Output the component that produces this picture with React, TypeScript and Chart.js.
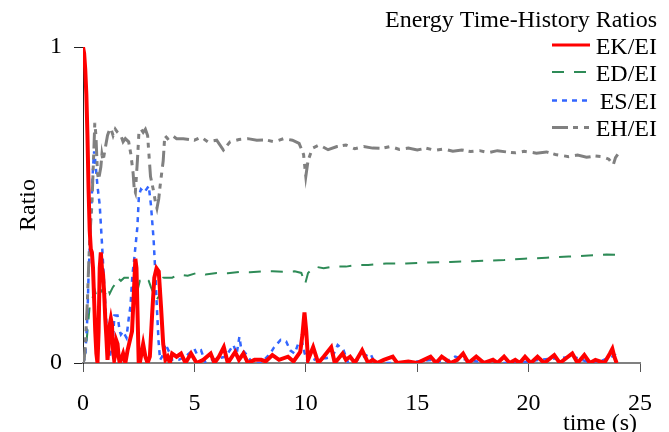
import React, { useEffect, useRef } from "react";
import { Chart, registerables } from "chart.js";

Chart.register(...registerables);

const xTicks = [0, 5, 10, 15, 20, 25];
const yTicks = [0, 1];
const seriesLabels = ["EK/EI", "ED/EI", "ES/EI", "EH/EI"];
const legendTitle = "Energy Time-History Ratios";
const xTitle = "time (s)";
const yTitle = "Ratio";

const tEK = [0, 0.05, 0.1, 0.15, 0.2, 0.25, 0.3, 0.35, 0.4, 0.45, 0.5, 0.55, 0.6, 0.65, 0.7, 0.75, 0.8, 0.85, 0.9, 0.95, 1.0, 1.05, 1.1, 1.15, 1.2, 1.25, 1.3, 1.35, 1.4, 1.45, 1.5, 1.55, 1.6, 1.65, 1.7, 1.8, 1.9, 2.0, 2.1, 2.2, 2.3, 2.35, 2.4, 2.45, 2.5, 2.55, 2.6, 2.7, 2.8, 2.9, 3.0, 3.1, 3.2, 3.3, 3.4, 3.5, 3.6, 3.7, 3.8, 3.9, 4.0, 4.2, 4.4, 4.6, 4.85, 5.1, 5.4, 5.73, 5.9, 6.1, 6.32, 6.5, 6.83, 7.0, 7.2, 7.4, 7.7, 8.0, 8.2, 8.5, 8.8, 9.2, 9.45, 9.75, 9.85, 9.94, 10.02, 10.1, 10.33, 10.56, 10.8, 11.14, 11.3, 11.65, 11.8, 11.99, 12.2, 12.53, 12.8, 13.0, 13.2, 13.5, 13.9, 14.1, 14.6, 15.0, 15.3, 15.6, 15.85, 16.1, 16.5, 16.8, 17.06, 17.3, 17.65, 18.0, 18.4, 18.6, 18.9, 19.15, 19.4, 19.6, 19.84, 20.1, 20.4, 20.7, 21.15, 21.4, 21.96, 22.2, 22.5, 22.75, 23.0, 23.4, 23.65, 23.76, 23.85, 23.95, 24.0];
const vEK = [1.0, 0.98, 0.93, 0.85, 0.72, 0.55, 0.42, 0.36, 0.35, 0.3, 0.2, 0.1, 0.03, 0.0, 0.1, 0.3, 0.35, 0.3, 0.28, 0.22, 0.14, 0.08, 0.01, 0.05, 0.12, 0.14, 0.12, 0.04, 0.01, 0.03, 0.07, 0.06, 0.02, 0.0, 0.01, 0.03, 0.0, 0.04, 0.07, 0.1, 0.25, 0.33, 0.3, 0.15, 0.0, 0.0, 0.02, 0.06, 0.02, 0.0, 0.02, 0.15, 0.27, 0.3, 0.29, 0.18, 0.06, 0.01, 0.02, 0.0, 0.03, 0.02, 0.03, 0.0, 0.03, 0.0, 0.01, 0.03, 0.0, 0.02, 0.05, 0.0, 0.035, 0.01, 0.03, 0.0, 0.01, 0.01, 0.005, 0.025, 0.01, 0.02, 0.005, 0.035, 0.09, 0.16, 0.1, 0.01, 0.05, 0.0, 0.02, 0.05, 0.0, 0.03, 0.01, 0.02, 0.0, 0.04, 0.0, 0.01, 0.0, 0.01, 0.02, 0.0, 0.005, 0.0, 0.01, 0.02, 0.0, 0.02, 0.0, 0.01, 0.03, 0.0, 0.02, 0.0, 0.01, 0.0, 0.02, 0.0, 0.01, 0.0, 0.02, 0.0, 0.02, 0.0, 0.025, 0.0, 0.03, 0.0, 0.025, 0.0, 0.01, 0.0, 0.03, 0.045, 0.02, 0.0, 0.0];

const tED = [0, 0.1, 0.15, 0.2, 0.3, 0.4, 0.53, 0.65, 0.75, 0.85, 1.0, 1.11, 1.2, 1.34, 1.45, 1.55, 1.7, 1.85, 2.0, 2.1, 2.2, 2.3, 2.37, 2.45, 2.55, 2.66, 2.8, 2.95, 3.05, 3.17, 3.3, 3.4, 3.5, 3.6, 3.7, 4.0, 4.3, 4.7, 5.15, 5.5, 6.0, 6.5, 7.0, 7.5, 8.0, 8.5, 9.0, 9.5, 9.8, 9.97, 10.1, 10.4, 10.8, 11.2, 11.8, 12.3, 12.8, 13.6, 14.5, 15.5, 16.5, 17.5, 18.9, 19.8, 20.8, 21.8, 22.7, 23.5, 24.0];
const vED = [0, 0.03, 0.06, 0.1, 0.18, 0.2, 0.23, 0.2, 0.22, 0.23, 0.22, 0.24, 0.22, 0.24, 0.25, 0.27, 0.26, 0.27, 0.27, 0.27, 0.25, 0.22, 0.2, 0.23, 0.26, 0.26, 0.27, 0.26, 0.24, 0.22, 0.2, 0.21, 0.25, 0.27, 0.27, 0.27, 0.28, 0.276, 0.286, 0.28, 0.285, 0.284, 0.288, 0.287, 0.29, 0.29, 0.289, 0.29, 0.285, 0.25, 0.285, 0.305, 0.3, 0.305, 0.305, 0.31, 0.31, 0.315, 0.315, 0.318, 0.32, 0.322, 0.326, 0.33, 0.333, 0.337, 0.34, 0.343, 0.342];

const tES = [0, 0.1, 0.2, 0.25, 0.35, 0.45, 0.5, 0.55, 0.65, 0.75, 0.85, 0.95, 1.05, 1.1, 1.2, 1.33, 1.41, 1.55, 1.65, 1.7, 1.8, 1.95, 2.05, 2.13, 2.22, 2.3, 2.44, 2.51, 2.6, 2.75, 2.95, 3.05, 3.17, 3.25, 3.32, 3.39, 3.46, 3.55, 3.7, 3.9, 4.0, 4.3, 4.6, 5.0, 5.1, 5.3, 5.5, 5.8, 6.1, 6.4, 6.75, 6.9, 7.02, 7.1, 7.3, 7.6, 8.0, 8.4, 8.58, 8.87, 9.12, 9.3, 9.5, 9.68, 9.82, 9.95, 10.1, 10.5, 10.9, 11.2, 11.43, 11.7, 11.9, 12.3, 12.9, 13.1, 14.0, 15.0, 15.7, 16.2, 16.7, 17.2, 17.7, 18.5, 19.5, 20.5, 21.3, 22.0, 22.6, 23.2, 23.9, 24.0];
const vES = [0, 0.02, 0.15, 0.28, 0.45, 0.62, 0.67, 0.64, 0.56, 0.5, 0.38, 0.25, 0.13, 0.03, 0.02, 0.06, 0.15, 0.15, 0.1, 0.09, 0.1, 0.08, 0.14, 0.18, 0.28, 0.33, 0.43, 0.53, 0.55, 0.54, 0.56, 0.5, 0.39, 0.28, 0.17, 0.07, 0.01, 0.02, 0.06, 0.03, 0.01, 0.01, 0.02, 0.045, 0.03, 0.04, 0.0, 0.01, 0.015, 0.02, 0.057, 0.03, 0.083, 0.045, 0.03, 0.0, 0.0, 0.03, 0.05, 0.073, 0.068, 0.04, 0.03, 0.065, 0.07, 0.03, 0.0, 0.015, 0.015, 0.02, 0.057, 0.04, 0.0, 0.01, 0.03, 0.0, 0.0, 0.005, 0.01, 0.0, 0.02, 0.01, 0.005, 0.0, 0.0, 0.01, 0.015, 0.02, 0.005, 0.005, 0.025, 0.02];

const tEH = [0, 0.05, 0.1, 0.2, 0.25, 0.3, 0.35, 0.4, 0.45, 0.5, 0.53, 0.58, 0.65, 0.7, 0.75, 0.8, 0.85, 0.9, 1.0, 1.1, 1.2, 1.26, 1.35, 1.45, 1.55, 1.7, 1.8, 1.9, 2.05, 2.15, 2.25, 2.3, 2.35, 2.45, 2.51, 2.6, 2.7, 2.8, 2.9, 3.03, 3.15, 3.25, 3.32, 3.4, 3.46, 3.6, 3.67, 3.8, 4.0, 4.2, 4.5, 5.0, 5.3, 5.6, 6.0, 6.3, 6.6, 7.0, 7.4, 7.8, 8.2, 8.6, 9.0, 9.4, 9.7, 9.9, 10.0, 10.1, 10.3, 10.6, 11.0, 11.4, 11.8, 12.2, 12.6, 13.0, 13.4, 13.8, 14.2, 14.6, 15.0, 15.4, 15.8, 16.2, 16.6, 17.0, 17.4, 17.8, 18.2, 18.6, 19.0, 19.4, 19.8, 20.35, 20.8, 21.2, 21.8, 22.2, 22.6, 23.0, 23.3, 23.6, 23.8, 23.9, 24.0];
const vEH = [0, 0.01, 0.05, 0.2, 0.3, 0.39, 0.45, 0.5, 0.6, 0.7, 0.76, 0.72, 0.6, 0.58, 0.6, 0.62, 0.66, 0.64, 0.68, 0.72, 0.74, 0.74, 0.72, 0.74, 0.73, 0.72, 0.7, 0.71, 0.7, 0.66, 0.6, 0.55, 0.54, 0.65, 0.73, 0.74, 0.73, 0.74, 0.72, 0.59, 0.55, 0.51, 0.49, 0.52, 0.56, 0.64, 0.72, 0.71, 0.72, 0.71, 0.71, 0.705, 0.715, 0.7, 0.705, 0.674, 0.7, 0.707, 0.71, 0.705, 0.706, 0.7, 0.71, 0.705, 0.695, 0.66, 0.59, 0.64, 0.68, 0.69, 0.675, 0.685, 0.69, 0.678, 0.685, 0.68, 0.679, 0.685, 0.676, 0.68, 0.674, 0.68, 0.673, 0.677, 0.67, 0.674, 0.669, 0.672, 0.666, 0.672, 0.668, 0.665, 0.67, 0.664, 0.668, 0.66, 0.653, 0.658, 0.651, 0.655, 0.653, 0.645, 0.627, 0.65, 0.66];

const colors = ["#FF0000", "#2E8B57", "#3366FF", "#808080"];
const widths = [4, 2, 2.5, 3];
const dashes = [[], [12, 10], [5, 5], [16, 5, 5, 6, 5, 6]];
const FONT = "'Liberation Serif', 'Times New Roman', serif";

const toPts = (t: number[], v: number[]) => t.map((x, i) => ({ x, y: v[i] }));

const overlay = {
  id: "overlay",
  afterDraw(chart: any) {
    const ctx = chart.ctx;
    ctx.save();
    ctx.fillStyle = "#000";
    ctx.font = `24px ${FONT}`;
    ctx.textAlign = "right";
    ctx.textBaseline = "alphabetic";
    ctx.fillText(legendTitle, 657, 27);
    const ys = [53.5, 80.5, 109, 136];
    seriesLabels.forEach((lab, i) => {
      ctx.fillStyle = "#000";
      ctx.fillText(lab, 657, ys[i]);
      ctx.beginPath();
      ctx.strokeStyle = colors[i];
      ctx.lineWidth = i === 0 ? 3 : widths[i];
      ctx.setLineDash(dashes[i]);
      ctx.moveTo(552, ys[i] - 8.5);
      ctx.lineTo(590, ys[i] - 8.5);
      ctx.stroke();
    });
    ctx.setLineDash([]);
    ctx.textAlign = "center";
    ctx.fillText(xTitle, 600, 430);
    ctx.translate(29, 205);
    ctx.rotate(-Math.PI / 2);
    ctx.textBaseline = "middle";
    ctx.fillText(yTitle, 0, 0);
    ctx.restore();
  },
};

export default function App() {
  const ref = useRef<HTMLCanvasElement | null>(null);
  useEffect(() => {
    if (!ref.current) return;
    const series = [toPts(tEK, vEK), toPts(tED, vED), toPts(tES, vES), toPts(tEH, vEH)];
    const chart = new Chart(ref.current, {
      type: "line",
      data: {
        datasets: series.map((d, i) => ({
          label: seriesLabels[i],
          data: d,
          borderColor: colors[i],
          borderWidth: widths[i],
          borderDash: dashes[i],
          pointRadius: 0,
          tension: 0,
          fill: false,
          order: i === 0 ? 0 : 4 - i,
        })),
      },
      options: {
        responsive: false,
        animation: false,
        layout: { padding: { left: 0, top: 47, right: 15, bottom: 0 } },
        plugins: { legend: { display: false }, tooltip: { enabled: false } },
        scales: {
          x: {
            type: "linear",
            min: 0,
            max: 25,
            afterFit: (s: any) => { s.height = 69; },
            afterBuildTicks: (s: any) => { s.ticks = xTicks.map((v) => ({ value: v })); },
            grid: { drawOnChartArea: false, drawTicks: true, tickLength: 9, color: "#555", lineWidth: 1 },
            border: { display: true, color: "#808080", width: 2 },
            ticks: { font: { family: FONT, size: 24 }, color: "#000", padding: 17, maxRotation: 0 },
          },
          y: {
            type: "linear",
            min: 0,
            max: 1,
            afterFit: (s: any) => { s.width = 83; },
            afterBuildTicks: (s: any) => { s.ticks = yTicks.map((v) => ({ value: v })); },
            grid: { drawOnChartArea: false, drawTicks: true, tickLength: 9, color: "#222", lineWidth: 1 },
            border: { display: true, color: "#222", width: 1 },
            ticks: { font: { family: FONT, size: 24 }, color: "#000", padding: 12 },
          },
        },
      },
      plugins: [overlay],
    });
    return () => chart.destroy();
  }, []);
  return (
    <div style={{ position: "absolute", left: 0, top: 0, width: 669, height: 432, background: "#fff" }}>
      <canvas ref={ref} width={669} height={432} />
    </div>
  );
}
